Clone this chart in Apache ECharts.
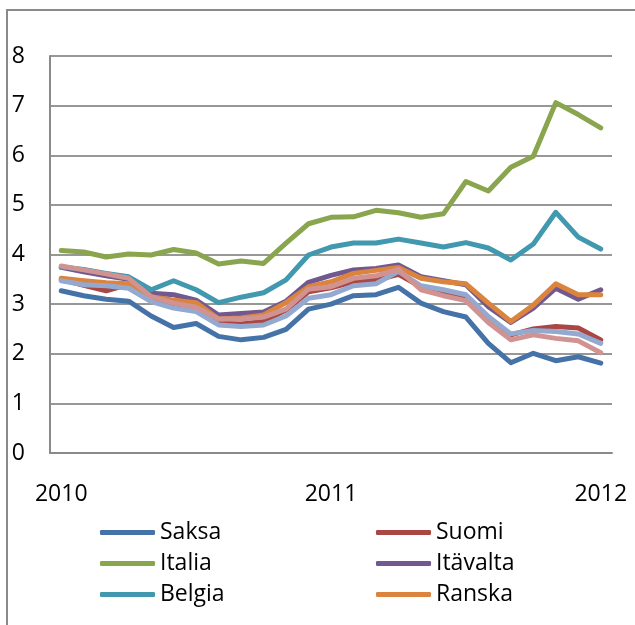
<!DOCTYPE html>
<html>
<head>
<meta charset="utf-8">
<script src="https://cdn.jsdelivr.net/npm/echarts@6.0.0/dist/echarts.min.js"></script>
<style>
  html, body { margin: 0; padding: 0; background: #ffffff; }
  #chart { width: 635px; height: 625px; }
</style>
</head>
<body>
<div id="chart"></div>
<script>
// Monthly categories, Jan 2010 - Jan 2012
const months = [
  '2010-01','2010-02','2010-03','2010-04','2010-05','2010-06','2010-07','2010-08','2010-09','2010-10','2010-11','2010-12',
  '2011-01','2011-02','2011-03','2011-04','2011-05','2011-06','2011-07','2011-08','2011-09','2011-10','2011-11','2011-12',
  '2012-01'
];
const yTicks = [0, 1, 2, 3, 4, 5, 6, 7, 8];

const saksa    = [3.27, 3.17, 3.10, 3.06, 2.76, 2.53, 2.61, 2.35, 2.28, 2.33, 2.49, 2.90, 3.00, 3.17, 3.19, 3.34, 3.02, 2.85, 2.74, 2.21, 1.82, 2.01, 1.86, 1.94, 1.81];
const suomi    = [3.50, 3.38, 3.27, 3.40, 3.12, 3.00, 2.95, 2.62, 2.60, 2.65, 2.88, 3.25, 3.33, 3.45, 3.48, 3.60, 3.35, 3.25, 3.15, 2.65, 2.38, 2.50, 2.55, 2.52, 2.28];
const italia   = [4.08, 4.05, 3.95, 4.01, 3.99, 4.10, 4.03, 3.81, 3.87, 3.82, 4.23, 4.62, 4.75, 4.76, 4.89, 4.84, 4.75, 4.82, 5.47, 5.28, 5.76, 5.98, 7.06, 6.82, 6.55];
const itavalta = [3.74, 3.65, 3.57, 3.50, 3.22, 3.19, 3.08, 2.78, 2.81, 2.84, 3.06, 3.44, 3.58, 3.69, 3.72, 3.79, 3.55, 3.47, 3.39, 2.95, 2.63, 2.92, 3.32, 3.10, 3.29];
const belgia   = [3.75, 3.70, 3.62, 3.55, 3.29, 3.47, 3.29, 3.03, 3.14, 3.23, 3.49, 3.99, 4.15, 4.23, 4.23, 4.31, 4.23, 4.15, 4.24, 4.13, 3.89, 4.21, 4.85, 4.35, 4.11];
const ranska   = [3.52, 3.47, 3.43, 3.41, 3.15, 3.08, 3.03, 2.70, 2.72, 2.78, 3.03, 3.35, 3.45, 3.62, 3.68, 3.74, 3.52, 3.45, 3.41, 3.02, 2.65, 2.98, 3.41, 3.19, 3.19];
const hollanti = [3.47, 3.39, 3.37, 3.32, 3.05, 2.92, 2.85, 2.58, 2.55, 2.58, 2.76, 3.12, 3.19, 3.37, 3.41, 3.66, 3.37, 3.29, 3.19, 2.75, 2.40, 2.47, 2.45, 2.40, 2.21];
const tanska   = [3.77, 3.69, 3.61, 3.52, 3.15, 3.02, 2.94, 2.70, 2.70, 2.74, 2.90, 3.30, 3.35, 3.52, 3.57, 3.70, 3.29, 3.17, 3.07, 2.63, 2.28, 2.38, 2.31, 2.26, 2.02];

const seriesNames = ['Saksa', 'Suomi', 'Italia', 'Itävalta', 'Belgia', 'Ranska', 'Hollanti', 'Tanska'];
const seriesData = [saksa, suomi, italia, itavalta, belgia, ranska, hollanti, tanska];
const colors = ['#4572A7', '#AA4643', '#89A54E', '#71588F', '#4198AF', '#DB843D', '#93A9CF', '#D19392'];
const legendLeft = ['Saksa', 'Italia', 'Belgia'];
const legendRight = ['Suomi', 'Itävalta', 'Ranska'];

const FONT = '"Open Sans", "Liberation Sans", sans-serif';
const chart = echarts.init(document.getElementById('chart'), null, { renderer: 'canvas' });

const legendCommon = {
  orient: 'vertical',
  top: 517,
  padding: 0,
  icon: 'roundRect',
  itemWidth: 55,
  itemHeight: 5,
  itemGap: 0,
  textStyle: { fontFamily: FONT, fontSize: 23, color: '#000', lineHeight: 31 }
};

chart.setOption({
  animation: false,
  color: colors,
  graphic: [{
    type: 'rect',
    silent: true,
    shape: { x: 7, y: 10, width: 700, height: 700 },
    style: { fill: 'none', stroke: '#8a8a8a', lineWidth: 2 }
  }],
  grid: { left: 50, right: 23, top: 56, bottom: 172, containLabel: false },
  legend: [
    Object.assign({}, legendCommon, { left: 100, data: legendLeft }),
    Object.assign({}, legendCommon, { left: 376, data: legendRight })
  ],
  xAxis: {
    type: 'category',
    data: months,
    boundaryGap: true,
    axisLine: { show: true, lineStyle: { color: '#8a8a8a', width: 2 } },
    axisTick: { show: false },
    axisLabel: {
      interval: 11,
      margin: 30,
      fontFamily: FONT,
      fontSize: 23,
      color: '#000',
      formatter: v => v.slice(0, 4)
    },
    splitLine: { show: false }
  },
  yAxis: {
    type: 'value',
    min: yTicks[0],
    max: yTicks[yTicks.length - 1],
    interval: 1,
    axisLine: { show: true, lineStyle: { color: '#8a8a8a', width: 2 } },
    axisTick: { show: false },
    axisLabel: { margin: 25, fontFamily: FONT, fontSize: 23, color: '#000' },
    splitLine: { show: true, lineStyle: { color: '#979797', width: 2 } }
  },
  series: seriesNames.map((name, i) => ({
    name: name,
    type: 'line',
    data: seriesData[i],
    symbol: 'none',
    smooth: false,
    z: 2 + i,
    lineStyle: { width: 5, color: colors[i], cap: 'round', join: 'round' },
    itemStyle: { color: colors[i] },
    emphasis: { disabled: true }
  }))
});
</script>
</body>
</html>
